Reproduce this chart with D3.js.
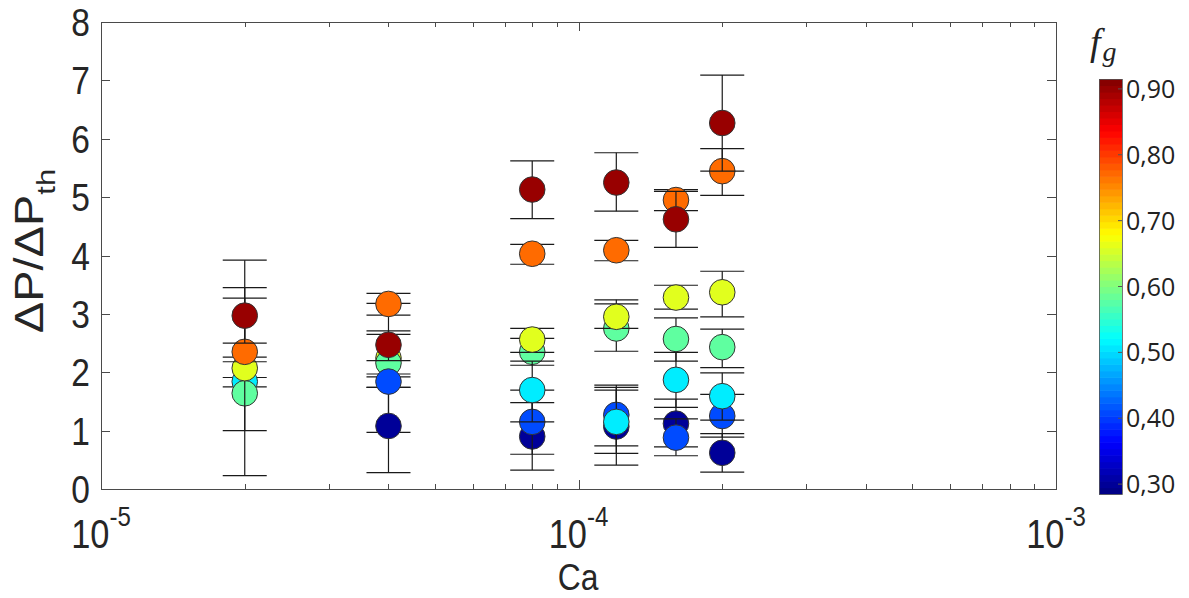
<!DOCTYPE html>
<html>
<head>
<meta charset="utf-8">
<title>dP ratio vs Ca</title>
<script src="https://cdn.jsdelivr.net/npm/d3@7"></script>
<style>
  body { margin: 0; background: #fff; }
  svg { display: block; }
</style>
</head>
<body>
<div id="chart"></div>
<script>
// ---- data ----
// capillary number of each measurement, drawn in this order
var caPts = [2e-5, 2e-5, 2e-5, 2e-5, 2e-5,
             4e-5, 4e-5, 4e-5, 4e-5, 4e-5, 4e-5,
             8e-5, 8e-5, 8e-5, 8e-5, 8e-5, 8e-5, 8e-5,
             1.2e-4, 1.2e-4, 1.2e-4, 1.2e-4, 1.2e-4, 1.2e-4, 1.2e-4,
             1.6e-4, 1.6e-4, 1.6e-4, 1.6e-4, 1.6e-4, 1.6e-4, 1.6e-4,
             2e-4, 2e-4, 2e-4, 2e-4, 2e-4, 2e-4, 2e-4];
// gas fraction f_g of each point
var fgPts = [0.51, 0.58, 0.66, 0.77, 0.90,
             0.66, 0.58, 0.90, 0.77, 0.30, 0.41,
             0.58, 0.66, 0.30, 0.41, 0.51, 0.77, 0.90,
             0.58, 0.66, 0.30, 0.41, 0.51, 0.77, 0.90,
             0.77, 0.90, 0.66, 0.58, 0.51, 0.30, 0.41,
             0.77, 0.90, 0.66, 0.58, 0.41, 0.51, 0.30];
// dP / dP_th
var ratio = [1.84, 1.64, 2.07, 2.35, 2.97,
             2.24, 2.16, 2.47, 3.17, 1.08, 1.84,
             2.35, 2.56, 0.90, 1.15, 1.695, 4.03, 5.13,
             2.75, 2.95, 1.07, 1.27, 1.15, 4.09, 5.25,
             4.95, 4.62, 3.28, 2.57, 1.87, 1.12, 0.88,
             5.445, 6.27, 3.37, 2.43, 1.25, 1.59, 0.62];
// error bar ends
var errLo = [1.75, 1.00, 0.23, 2.18, 2.50,
             0.97, 1.74, 2.20, 2.98, 0.28, 1.74,
             2.12, 2.34, 0.325, 0.595, 1.15, 3.85, 4.63,
             2.36, 2.75, 0.41, 0.74, 0.61, 3.91, 4.76,
             4.77, 4.14, 3.08, 2.19, 1.40, 0.72, 0.57,
             5.03, 5.445, 2.95, 2.08, 0.89, 1.18, 0.29];
var errHi = [1.91, 2.26, 3.92, 3.27, 3.45,
             3.18, 2.65, 2.71, 3.35, 1.92, 1.97,
             2.58, 2.75, 1.48, 1.695, 2.19, 4.19, 5.62,
             3.17, 3.24, 1.74, 1.78, 1.695, 4.26, 5.76,
             5.13, 5.10, 3.49, 2.93, 2.34, 1.54, 1.20,
             5.83, 7.09, 3.73, 2.74, 1.62, 1.99, 0.95];

var yTicks = [0, 1, 2, 3, 4, 5, 6, 7, 8];
var xDecades = [1e-5, 1e-4, 1e-3];
var xDecadeExp = ["-5", "-4", "-3"];
var cbTicks = [0.30, 0.40, 0.50, 0.60, 0.70, 0.80, 0.90];

// ---- layout ----
var W = 1189, H = 598;
var pL = 101, pR = 1056, pT = 22, pB = 489;
var squeeze = 0.86;   // the figure's text looks horizontally compressed

var svg = d3.select("#chart").append("svg")
  .attr("width", W).attr("height", H)
  .style("font-family", "'Liberation Sans', Arial, sans-serif");

var x = d3.scaleLog().domain([1e-5, 1e-3]).range([pL, pR]);
var y = d3.scaleLinear().domain([0, 8]).range([pB, pT]);

// jet colormap
function jet(t) {
  var cl = function(v) { return Math.max(0, Math.min(1, v)); };
  var r = cl(1.5 - Math.abs(4 * t - 3)),
      g = cl(1.5 - Math.abs(4 * t - 2)),
      b = cl(1.5 - Math.abs(4 * t - 1));
  return d3.rgb(r * 255, g * 255, b * 255).toString();
}
var cLo = 0.285, cHi = 0.915;
var color = function(v) { return jet((v - cLo) / (cHi - cLo)); };

var axisCol = "#4a4a4a", textCol = "#262626";

// ticks (inward, on all four sides)
var tickG = svg.append("g").attr("stroke", axisCol).attr("stroke-width", 1);
yTicks.forEach(function(t) {
  var yy = Math.round(y(t)) + 0.5;
  tickG.append("line").attr("x1", pL).attr("x2", pL + 9).attr("y1", yy).attr("y2", yy);
  tickG.append("line").attr("x1", pR - 9).attr("x2", pR).attr("y1", yy).attr("y2", yy);
});
var minor = [];
[1e-5, 1e-4].forEach(function(d) { for (var k = 2; k <= 9; k++) minor.push(d * k); });
minor.forEach(function(t) {
  var xx = Math.round(x(t)) + 0.5;
  tickG.append("line").attr("x1", xx).attr("x2", xx).attr("y1", pB).attr("y2", pB - 5);
  tickG.append("line").attr("x1", xx).attr("x2", xx).attr("y1", pT).attr("y2", pT + 5);
});
xDecades.forEach(function(t) {
  var xx = Math.round(x(t)) + 0.5;
  tickG.append("line").attr("x1", xx).attr("x2", xx).attr("y1", pB).attr("y2", pB - 9);
  tickG.append("line").attr("x1", xx).attr("x2", xx).attr("y1", pT).attr("y2", pT + 9);
});

// box
svg.append("rect")
  .attr("x", pL + 0.5).attr("y", pT + 0.5)
  .attr("width", pR - pL).attr("height", pB - pT)
  .attr("fill", "none").attr("stroke", axisCol).attr("stroke-width", 1);

// y tick labels
svg.append("g").selectAll("text").data(yTicks).enter().append("text")
  .attr("transform", function(d) { return "translate(90," + (y(d) + 14) + ") scale(" + squeeze + ",1)"; })
  .attr("text-anchor", "end")
  .attr("font-size", 39)
  .attr("fill", textCol)
  .text(function(d) { return d; });

// x tick labels 10^n
xDecades.forEach(function(d, i) {
  var t = svg.append("text")
    .attr("transform", "translate(" + x(d) + ",548) scale(" + squeeze + ",1)")
    .attr("text-anchor", "middle")
    .attr("fill", textCol)
    .attr("font-size", 40);
  t.append("tspan").text("10");
  t.append("tspan").attr("dy", -22).attr("font-size", 28).text(xDecadeExp[i]);
});

// axis labels
svg.append("text")
  .attr("transform", "translate(578,590) scale(" + squeeze + ",1)")
  .attr("text-anchor", "middle").attr("font-size", 37).attr("fill", textCol)
  .text("Ca");

var yl = svg.append("text")
  .attr("transform", "translate(43,251) rotate(-90) scale(1," + squeeze + ")")
  .attr("text-anchor", "middle").attr("font-size", 47).attr("fill", textCol);
yl.append("tspan").text("\u0394P/\u0394P");
yl.append("tspan").attr("dy", 14).attr("font-size", 31).text("th");

// points with error bars, drawn one after the other
var capW = 22;
var pts = svg.append("g");
caPts.forEach(function(ca, i) {
  var cx = x(ca);
  var g = pts.append("g");
  g.append("line")
    .attr("x1", cx).attr("x2", cx)
    .attr("y1", y(errLo[i])).attr("y2", y(errHi[i]))
    .attr("stroke", "#1a1a1a").attr("stroke-width", 1.2);
  [errLo[i], errHi[i]].forEach(function(v) {
    g.append("line")
      .attr("x1", cx - capW).attr("x2", cx + capW)
      .attr("y1", y(v)).attr("y2", y(v))
      .attr("stroke", "#1a1a1a").attr("stroke-width", 1.2);
  });
  g.append("circle")
    .attr("cx", cx).attr("cy", y(ratio[i])).attr("r", 12.8)
    .attr("fill", color(fgPts[i]))
    .attr("stroke", "#333").attr("stroke-width", 1);
});

// colour bar
var cbX = 1099, cbW = 23;
var cy = d3.scaleLinear().domain([cLo, cHi]).range([494, 79]);
var nBands = 64;
var bands = d3.range(nBands);
svg.append("g").selectAll("rect").data(bands).enter().append("rect")
  .attr("x", cbX)
  .attr("y", function(k) { return cy(cLo + (k + 1) * (cHi - cLo) / nBands); })
  .attr("width", cbW)
  .attr("height", function(k) { return cy(cLo + k * (cHi - cLo) / nBands) - cy(cLo + (k + 1) * (cHi - cLo) / nBands) + 0.6; })
  .attr("fill", function(k) { return jet((k + 0.5) / nBands); });
svg.append("rect")
  .attr("x", cbX + 0.5).attr("y", 79.5).attr("width", cbW).attr("height", 494 - 79)
  .attr("fill", "none").attr("stroke", "#555").attr("stroke-width", 0.8);

var fmtComma = function(v) { return d3.format(".2f")(v).replace(".", ","); };
cbTicks.forEach(function(t) {
  svg.append("line")
    .attr("x1", cbX + cbW - 4).attr("x2", cbX + cbW)
    .attr("y1", cy(t)).attr("y2", cy(t))
    .attr("stroke", "#555").attr("stroke-width", 1);
  svg.append("text")
    .attr("x", 1126).attr("y", cy(t) + 9)
    .attr("font-family", "'Open Sans', sans-serif")
    .attr("font-size", 25).attr("fill", "#222")
    .text(fmtComma(t));
});

// f_g title
var ft = svg.append("text")
  .attr("x", 1090).attr("y", 55)
  .attr("font-family", "'Liberation Serif', 'DejaVu Serif', serif")
  .attr("font-style", "italic").attr("font-size", 38).attr("fill", "#222");
ft.append("tspan").text("f");
ft.append("tspan").attr("dx", 2).attr("dy", 6).attr("font-size", 28).text("g");
</script>
</body>
</html>
